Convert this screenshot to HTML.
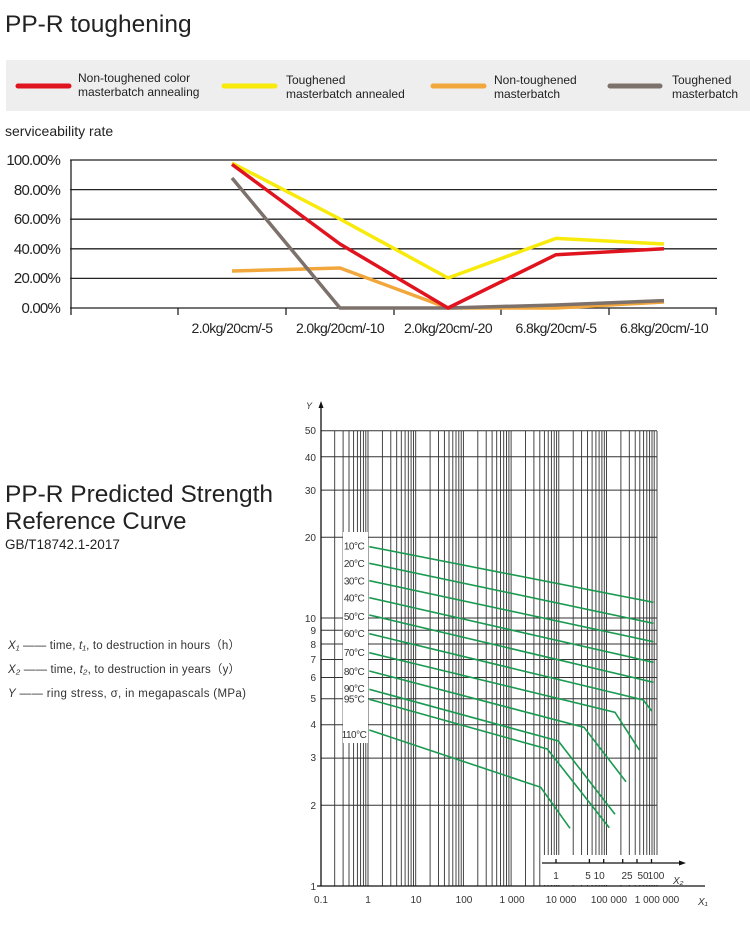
<!DOCTYPE html>
<html><head><meta charset="utf-8"><style>
html,body{margin:0;padding:0;background:#fff;width:750px;height:927px;overflow:hidden}
svg{display:block;font-family:"Liberation Sans",sans-serif}
</style></head><body>
<svg width="750" height="927" viewBox="0 0 750 927" xmlns="http://www.w3.org/2000/svg">
<text x="5" y="32" font-size="24.5" fill="#222">PP-R toughening</text>
<rect x="6" y="60" width="744" height="51" fill="#eeeeee"/>
<g stroke-width="5" stroke-linecap="round" fill="none">
<line x1="18" y1="86" x2="69" y2="86" stroke="#e0141e"/>
<line x1="224" y1="86" x2="275" y2="86" stroke="#f8ea0a"/>
<line x1="433" y1="86" x2="484" y2="86" stroke="#f2a73c"/>
<line x1="610" y1="86" x2="660" y2="86" stroke="#7d716b"/>
</g>
<g font-size="12" fill="#222">
<text x="78" y="82">Non-toughened color</text><text x="78" y="96">masterbatch annealing</text>
<text x="286" y="84">Toughened</text><text x="286" y="98">masterbatch annealed</text>
<text x="494" y="84">Non-toughened</text><text x="494" y="98">masterbatch</text>
<text x="672" y="84">Toughened</text><text x="672" y="98">masterbatch</text>
</g>
<text x="5" y="136" font-size="14" fill="#222">serviceability rate</text>
<g stroke="#222" stroke-width="1.3">
<line x1="70" y1="160" x2="717" y2="160"/><line x1="70" y1="189.6" x2="717" y2="189.6"/>
<line x1="70" y1="219.2" x2="717" y2="219.2"/><line x1="70" y1="248.8" x2="717" y2="248.8"/>
<line x1="70" y1="278.4" x2="717" y2="278.4"/><line x1="70" y1="308" x2="717" y2="308"/>
<line x1="71" y1="160" x2="71" y2="315"/>
<line x1="178" y1="308" x2="178" y2="315"/><line x1="286" y1="308" x2="286" y2="315"/>
<line x1="394" y1="308" x2="394" y2="315"/><line x1="501" y1="308" x2="501" y2="315"/>
<line x1="609" y1="308" x2="609" y2="315"/><line x1="716" y1="308" x2="716" y2="315"/>
</g>
<g font-size="15" fill="#222" text-anchor="end" letter-spacing="-0.8">
<text x="60" y="165">100.00%</text><text x="60" y="195">80.00%</text><text x="60" y="224">60.00%</text>
<text x="60" y="254">40.00%</text><text x="60" y="283">20.00%</text><text x="60" y="313">0.00%</text>
</g>
<g font-size="14" fill="#222" text-anchor="middle" letter-spacing="-0.6">
<text x="232" y="333">2.0kg/20cm/-5</text><text x="340" y="333">2.0kg/20cm/-10</text>
<text x="448" y="333">2.0kg/20cm/-20</text><text x="556" y="333">6.8kg/20cm/-5</text>
<text x="664" y="333">6.8kg/20cm/-10</text>
</g>
<g fill="none" stroke-width="3.5" stroke-linejoin="round">
<polyline stroke="#f2a73c" points="232,271 340,268 448,308 556,308 664,302"/>
<polyline stroke="#7d716b" points="232,178 340,308 448,308 556,305 664,300.6"/>
<polyline stroke="#f8ea0a" points="232,163 340,219 448,278 556,238.4 664,244"/>
<polyline stroke="#e0141e" points="232,164.4 340,244 448,308 556,254.7 664,248.8"/>
</g>

<text x="5" y="502" font-size="24" fill="#222" textLength="268" lengthAdjust="spacingAndGlyphs">PP-R Predicted Strength</text>
<text x="5" y="529" font-size="24" fill="#222">Reference Curve</text>
<text x="5" y="549" font-size="13.5" fill="#222">GB/T18742.1-2017</text>
<g font-size="11.5" fill="#333">
<text x="8" y="649" textLength="232"><tspan font-style="italic">X₁</tspan> —— time, <tspan font-style="italic">t₁</tspan>, to destruction in hours（h）</text>
<text x="8" y="673" textLength="232"><tspan font-style="italic">X₂</tspan> —— time, <tspan font-style="italic">t₂</tspan>, to destruction in years（y）</text>
<text x="8" y="697" textLength="238"><tspan font-style="italic">Y</tspan> —— ring stress, σ, in megapascals (MPa)</text>
</g>

<path stroke="#333" stroke-width="0.9" fill="none" d="M334.7 431V886M343.1 431V886M349 431V886M353.6 431V886M357.4 431V886M360.6 431V886M363.4 431V886M365.8 431V886M368 431V886
M382.4 431V886M390.8 431V886M396.7 431V886M401.3 431V886M405.1 431V886M408.3 431V886M411.1 431V886M413.5 431V886M415.7 431V886
M430.1 431V886M438.5 431V886M444.4 431V886M449 431V886M452.8 431V886M456 431V886M458.8 431V886M461.2 431V886M463.4 431V886
M477.8 431V886M486.2 431V886M492.1 431V886M496.7 431V886M500.5 431V886M503.7 431V886M506.5 431V886M508.9 431V886M511.1 431V886
M525.5 431V886M533.9 431V886M539.8 431V886M544.4 431V886M548.2 431V886M551.4 431V886M554.2 431V886M556.6 431V886M558.8 431V886
M573.2 431V886M581.6 431V886M587.5 431V886M592.1 431V886M595.9 431V886M599.1 431V886M601.9 431V886M604.3 431V886M606.5 431V886
M620.9 431V886M629.3 431V886M635.2 431V886M639.8 431V886M643.6 431V886M646.8 431V886M649.6 431V886M652 431V886M654.2 431V886M657 431V886"/>
<path stroke="#333" stroke-width="1" fill="none" d="M321 805.3H657M321 758.1H657M321 724.7H657M321 698.7H657M321 677.5H657M321 659.5H657M321 644H657M321 630.3H657M321 618H657M321 537.3H657M321 490.1H657M321 456.7H657M321 430.7H657"/>
<rect x="343" y="532" width="25" height="211" fill="#fff"/>
<rect x="541" y="855" width="130" height="30" fill="#fff"/>
<g stroke="#111" stroke-width="1.3" fill="none">
<line x1="321" y1="404" x2="321" y2="886"/>
<line x1="317" y1="886" x2="705" y2="886"/>
<line x1="542" y1="863" x2="680" y2="863"/>
<path d="M556 859V863M589.4 859V863M603.7 859V863M622.7 859V863M637 859V863M651.5 859V863"/>
</g>
<polygon points="321,401 318.5,408 323.5,408" fill="#111"/>
<polygon points="686,863 679,860.5 679,865.5" fill="#111"/>
<g font-size="10" fill="#333" text-anchor="end">
<text x="316" y="434">50</text><text x="316" y="461">40</text><text x="316" y="494">30</text>
<text x="316" y="541">20</text><text x="316" y="622">10</text><text x="316" y="634">9</text>
<text x="316" y="648">8</text><text x="316" y="663">7</text><text x="316" y="681">6</text>
<text x="316" y="702">5</text><text x="316" y="728">4</text><text x="316" y="761">3</text>
<text x="316" y="809">2</text><text x="316" y="890">1</text>
</g>
<text x="306" y="409" font-size="9" font-style="italic" fill="#333">Y</text>
<g font-size="10" fill="#333" text-anchor="middle">
<text x="321" y="903">0.1</text><text x="368" y="903">1</text><text x="416" y="903">10</text>
<text x="464" y="903">100</text><text x="512" y="903">1 000</text><text x="561" y="903">10  000</text>
<text x="609" y="903">100  000</text><text x="657" y="903">1 000  000</text>
<text x="556" y="879">1</text><text x="595" y="879">5 10</text><text x="627" y="879">25</text>
<text x="643" y="879">50</text><text x="656" y="879">100</text>
</g>
<text x="673" y="884" font-size="10" font-style="italic" fill="#333">X₂</text>
<text x="698" y="905" font-size="10" font-style="italic" fill="#333">X₁</text>
<g stroke="#1a9a50" stroke-width="1.6" fill="none">
<polyline points="369.3,546.7 653.3,602.3"/>
<polyline points="369.3,563.3 653.3,623.3"/>
<polyline points="369.3,580.7 653.3,641.7"/>
<polyline points="369.3,597.7 653.3,662.3"/>
<polyline points="369.3,615 653.3,682.3"/>
<polyline points="369.3,633.7 643.3,700 651.7,711"/>
<polyline points="369.3,652.7 615,712.3 639.3,750"/>
<polyline points="369.3,671 584,727.3 626,781.7"/>
<polyline points="369.3,689.3 558.3,741 615,814.3"/>
<polyline points="369.3,699.3 547.3,749 609.3,827.7"/>
<polyline points="369.3,730 540.7,787.3 570,828.3"/>
</g>
<g font-size="10" fill="#333" text-anchor="middle" letter-spacing="-0.5">
<text x="354" y="549.5">10°C</text><text x="354" y="567">20°C</text><text x="354" y="584.5">30°C</text>
<text x="354" y="601.5">40°C</text><text x="354" y="620">50°C</text><text x="354" y="637">60°C</text>
<text x="354" y="656">70°C</text><text x="354" y="675">80°C</text><text x="354" y="692">90°C</text>
<text x="354" y="702.5">95°C</text><text x="354" y="738">110°C</text>
</g>
</svg>
</body></html>
